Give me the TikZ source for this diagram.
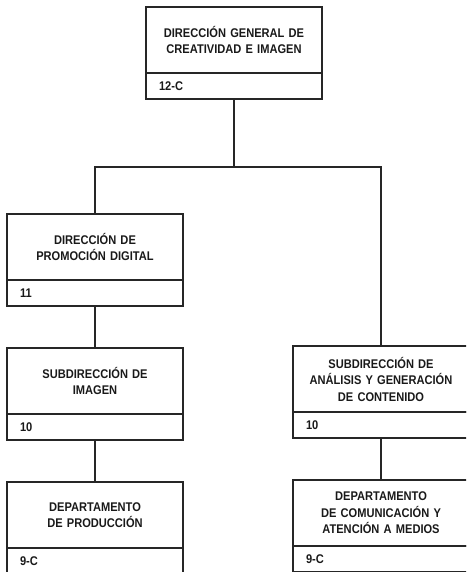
\documentclass[tikz,border=0pt]{standalone}
\usepackage{fontspec}
\setmainfont{Liberation Sans}[FakeStretch=0.88]
\usetikzlibrary{positioning}

\begin{document}
\begin{tikzpicture}[
      x=1pt,y=-1pt,
      titlebox/.style={
         rectangle,
         draw=black!85,
         line width=1.2pt,
         text=black!90,
         text width=166pt,
         align=center,
         inner xsep=5pt,
         inner ysep=0pt,
         outer sep=0pt,
         minimum height=66pt,
         font=\bfseries\fontsize{12.6}{16.5}\selectfont},
      codebox/.style={
         rectangle,
         draw=black!85,
         line width=1.2pt,
         text=black!90,
         text width=150pt,
         align=left,
         inner xsep=13pt,
         inner ysep=0pt,
         outer sep=0pt,
         minimum height=26pt,
         font=\bfseries\fontsize{12.6}{13}\selectfont},
      myline/.style={draw=black!85,line width=1.1pt},
      node distance=42pt
      ]
      \useasboundingbox (0,0) rectangle (466,572);
      \clip (0,0) rectangle (466,572);

      % top box
      \node[titlebox,anchor=north west] (t0) at (146,7) {DIRECCIÓN GENERAL DE\\CREATIVIDAD E IMAGEN};
      \node[codebox,below=0pt of t0] (c0) {12-C};

      % left branch
      \node[titlebox,anchor=north west] (t2) at (7,214) {DIRECCIÓN DE\\PROMOCIÓN DIGITAL};
      \node[codebox,below=0pt of t2] (c2) {11};
      \node[titlebox,below=of c2] (t3) {SUBDIRECCIÓN DE\\IMAGEN};
      \node[codebox,below=0pt of t3] (c3) {10};
      \node[titlebox,below=of c3] (t4) {DEPARTAMENTO\\DE PRODUCCIÓN};
      \node[codebox,below=0pt of t4] (c4) {9-C};

      % right branch
      \node[titlebox,anchor=north west] (t5) at (293,346) {SUBDIRECCIÓN DE\\ANÁLISIS Y GENERACIÓN\\DE CONTENIDO};
      \node[codebox,below=0pt of t5] (c5) {10};
      \node[titlebox,below=of c5] (t6) {DEPARTAMENTO\\DE COMUNICACIÓN Y\\ATENCIÓN A MEDIOS};
      \node[codebox,below=0pt of t6] (c6) {9-C};

      \coordinate (split) at (c0.south |- 0,167);
      \draw[myline] (c0.south) -- (split);
      \draw[myline] (t2.north) |- (split) -| (t5.north);

    \foreach \i/\j in {% upper node/lower node
      c2/t3,
      c3/t4,
      c5/t6}
       \draw [myline] (\i.south) -- (\j.north);

    \end{tikzpicture}
\end{document}
